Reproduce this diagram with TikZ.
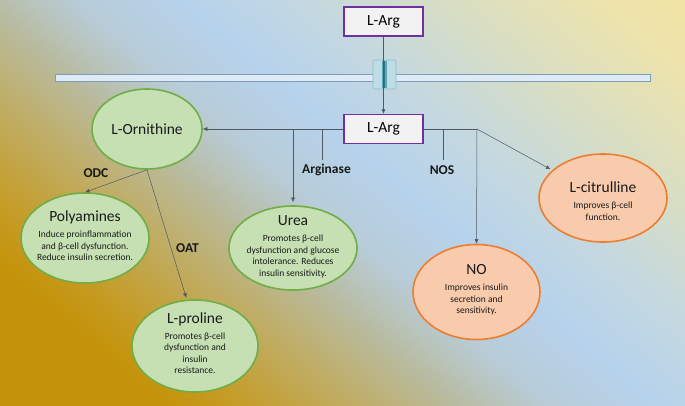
\documentclass[tikz,border=0pt]{standalone}
\usepackage{fontspec}
\setmainfont{Carlito}
\usetikzlibrary{shapes.geometric,arrows.meta}
\definecolor{bgA}{HTML}{C4930A}
\definecolor{bgB}{HTML}{C69A20}
\definecolor{bgC}{HTML}{BFAE6A}
\definecolor{bgD}{HTML}{B8BBA0}
\definecolor{bgE}{HTML}{B8CCD8}
\definecolor{bgF}{HTML}{B6D2EC}
\definecolor{bgG}{HTML}{C4D8E0}
\definecolor{bgH}{HTML}{D8DEC4}
\definecolor{bgI}{HTML}{EDE3AC}
\definecolor{bgJ}{HTML}{F2E3A3}
\definecolor{gfill}{HTML}{C6E0B4}
\definecolor{gline}{HTML}{70AD47}
\definecolor{ofill}{HTML}{F8CBAD}
\definecolor{oline}{HTML}{ED7D31}
\definecolor{pline}{HTML}{7030A0}
\definecolor{boxfill}{HTML}{F2F2F2}
\definecolor{conn}{HTML}{4F5863}
\definecolor{memfill}{HTML}{DEEAF6}
\definecolor{memline}{HTML}{7F9DB9}
\definecolor{chfill}{HTML}{BCDDE5}
\definecolor{chline}{HTML}{93BCCB}
\definecolor{chmid}{HTML}{5FA6B6}
\definecolor{chdark}{HTML}{2E7586}
\pgfdeclarehorizontalshading{bgsh}{800bp}{color(0bp)=(bgA); color(111bp)=(bgA); color(150bp)=(bgB); color(240bp)=(bgC); color(300bp)=(bgD); color(360bp)=(bgE); color(430bp)=(bgF); color(510bp)=(bgG); color(600bp)=(bgH); color(700bp)=(bgI); color(760bp)=(bgJ)}
\newcommand\ttlfont{\fontsize{15.5}{17}\selectfont}
\newcommand\dscfont{\fontsize{9.5}{11.5}\selectfont}
\newcommand\lblfont{\fontsize{13.5}{15}\selectfont\bfseries}
\tikzset{
  ellg/.style={ellipse, draw=gline, fill=gfill, line width=1.6pt, inner sep=0pt},
  ello/.style={ellipse, draw=oline, fill=ofill, line width=1.6pt, inner sep=0pt},
  argbox/.style={rectangle, draw=pline, fill=boxfill, line width=1.5pt, minimum width=79pt, minimum height=29pt, inner sep=0pt, font=\ttlfont},
  txt/.style={align=center, font=\dscfont, text=black!90, inner sep=0pt},
  lbl/.style={font=\lblfont, text=black!90, inner sep=0pt},
  conline/.style={draw=conn, line width=0.5pt},
  arr/.style={conline, -{Latex[length=4.5pt,width=4pt]}},
  membar/.style={draw=memline, fill=memfill, line width=0.8pt},
  chpart/.style={draw=chline, fill=chfill, line width=0.6pt, rounded corners=2pt}
}
\begin{document}
\begin{tikzpicture}[x=1pt,y=-1pt]
\useasboundingbox (0,0) rectangle (685,405);
% background
\begin{scope}
\clip (0,0) rectangle (685,405);
\node[inner sep=0pt, rotate=49.5] (bg) at (342.5,202.5) {\pgfuseshading{bgsh}};
\end{scope}
% membrane
\path[membar] (55,74) rectangle (373,81);
\path[membar] (395,74) rectangle (650,81);
\path[chpart] (373,60) rectangle (385,89);
\path[chpart] (384,60) rectangle (396,89);
\path[fill=chmid] (381.5,61) rectangle (386.5,88);
\draw[chdark, line width=0.8pt] (384,61) -- (384,88);
% boxes
\node[argbox] (arg1) at (383.5,21.5) {L-Arg};
\node[argbox] (arg2) at (383.5,129) {L-Arg};
% ellipses
\node[ellg, minimum width=110pt, minimum height=80pt] (orn) at (147,129) {};
\node[ellg, minimum width=128pt, minimum height=90pt] (poly) at (85,238) {};
\node[ellg, minimum width=126pt, minimum height=92pt] (prol) at (195,346) {};
\node[ellg, minimum width=128pt, minimum height=84pt] (urea) at (293,248) {};
\node[ello, minimum width=127pt, minimum height=95pt] (no) at (476.5,292) {};
\node[ello, minimum width=128pt, minimum height=88pt] (citr) at (603,198) {};
% texts
\node[txt] (ornt) at (orn) {\ttlfont L-Ornithine};
\node[txt] (polyt) at (85,236) {{\ttlfont Polyamines}\\[4.5pt]Induce proinflammation\\and β-cell dysfunction.\\Reduce insulin secretion.};
\node[txt] (prolt) at (195,343) {{\ttlfont L-proline}\\[4.5pt]Promotes β-cell\\dysfunction and\\insulin\\resistance.};
\node[txt] (ureat) at (293,247) {{\ttlfont Urea}\\[4.5pt]Promotes β-cell\\dysfunction and glucose\\intolerance. Reduces\\insulin sensitivity.};
\node[txt] (not) at (476.5,290) {{\ttlfont NO}\\[4.5pt]Improves insulin\\secretion and\\sensitivity.};
\node[txt] (citrt) at (603,201) {{\ttlfont L-citrulline}\\[4.5pt]Improves β-cell\\function.};
% labels
\node[lbl] (odc) at (96,173) {ODC};
\node[lbl] (oat) at (187.5,248) {OAT};
\node[lbl] (argi) at (326.5,170) {Arginase};
\node[lbl] (nos) at (442,170) {NOS};
% coordinates
\coordinate (b1) at (293,129);
\coordinate (s1a) at (322,129);
\coordinate (s1b) at (322,160);
\coordinate (r1) at (477,129);
\coordinate (s2a) at (443,129);
\coordinate (s2b) at (443,160);
% connectors
\draw[arr] (arg1) -- (arg2);
\draw[arr] (arg2.west) -- (orn.east);
\draw[arr, shorten >=3pt] (b1) -- (urea.north);
\draw[conline] (s1a) -- (s1b);
\draw[conline] (arg2.east) -- (r1);
\draw[conline] (s2a) -- (s2b);
\draw[arr] (r1) -- (no.north);
\draw[arr, shorten >=2pt] (r1) -- (citr);
\draw[arr] (orn.south) -- (poly.north);
\draw[arr, shorten >=2pt] (orn.south) -- (prol.100);
\end{tikzpicture}
\end{document}
